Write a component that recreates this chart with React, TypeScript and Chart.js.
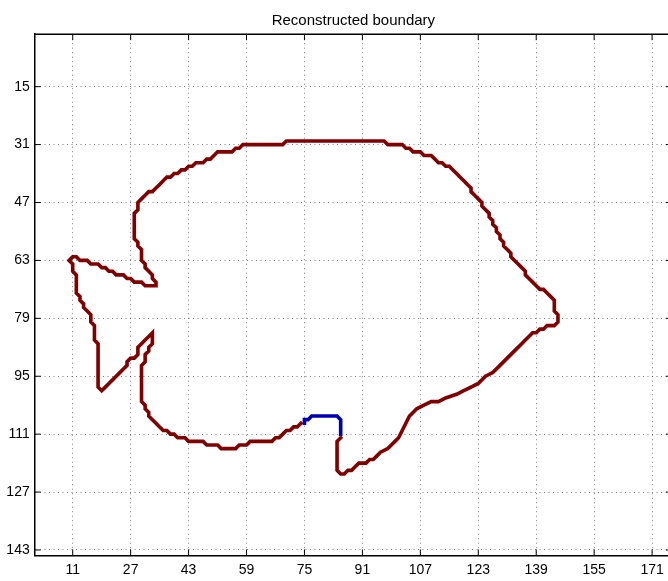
import { useEffect, useRef } from "react";
import { Chart, registerables } from "chart.js";

Chart.register(...registerables);

const titleText = "Reconstructed boundary";
const xTickValues = [11, 27, 43, 59, 75, 91, 107, 123, 139, 155, 171];
const yTickValues = [15, 31, 47, 63, 79, 95, 111, 127, 143];
const xLimits = [0.5, 176.5];
const yLimits = [0.5, 144.5];

// Outer contour, traced as pixel centres (run ends of the chain)
const contourX = [
  85, 84, 84, 85, 86, 87, 88, 89, 90, 92, 93, 94, 95, 96,
  98, 99, 100, 101, 102, 103, 104, 105, 106, 108, 110, 112, 114, 117, 119, 121, 123, 125, 127, 129, 131, 133, 135, 136,
  137, 138, 139, 140, 141, 142, 144, 145, 145, 144, 144, 143, 142, 141, 140, 139, 138, 137, 136, 136, 135, 134, 133,
  132, 132, 131, 130, 130, 129, 129, 128, 128, 127, 127, 126, 126, 125, 124, 124, 123, 122, 121, 121, 120, 119, 118,
  117, 116, 115, 114, 113, 112, 111, 110, 108, 107, 105, 104, 103, 102, 98, 97, 70, 69, 58, 57, 56, 55, 51, 50, 49,
  48, 47, 45, 44, 43, 42, 41, 40, 39, 38, 37, 36, 35, 34, 33, 32, 31, 30, 29, 29, 28, 28, 29, 29, 30, 30, 31, 31, 32,
  33, 33, 34, 34, 31, 30, 28, 27, 26, 25, 23, 22, 21, 20, 19, 18, 16, 15, 13, 12, 11, 10, 11, 11, 12, 12, 13, 13, 14,
  14, 15, 16, 16, 17, 17, 18, 18, 19, 20, 21, 22, 23, 24, 25, 26, 26, 27, 28, 29, 29, 30, 31, 32, 33, 33, 32, 32, 31,
  31, 30, 30, 31, 31, 32, 32, 33, 34, 35, 36, 37, 38, 39, 40, 42, 43, 47, 48, 51, 52, 56, 57, 59, 60, 66, 67, 68, 69,
  70, 71, 72, 73, 74,
];
const contourY = [
  112, 113, 121, 122, 122, 121, 121, 120, 119, 119, 118, 118, 117, 116,
  115, 114, 113, 112, 110, 108, 106, 105, 104, 103, 102, 102, 101, 100, 99, 98, 97, 95, 94, 92, 90, 88, 86, 85,
  84, 83, 83, 82, 82, 81, 81, 80, 78, 77, 74, 73, 72, 71, 71, 70, 69, 68, 67, 66, 65, 64, 63,
  62, 61, 60, 59, 58, 57, 56, 55, 54, 53, 52, 51, 50, 49, 48, 47, 46, 45, 44, 43, 42, 41, 40,
  39, 38, 37, 37, 36, 36, 35, 34, 34, 33, 33, 32, 32, 31, 31, 30, 30, 31, 31, 32, 32, 33, 33, 34, 35,
  35, 36, 36, 37, 37, 38, 38, 39, 39, 40, 40, 41, 42, 43, 44, 44, 45, 46, 47, 49, 50, 57, 58, 59, 60, 63, 64, 65, 66,
  67, 68, 69, 70, 70, 69, 69, 68, 68, 67, 67, 66, 66, 65, 65, 64, 64, 63, 63, 62, 62, 63, 64, 66, 67, 72, 73, 74, 75,
  76, 77, 78, 80, 81, 85, 86, 98, 99, 98, 97, 96, 95, 94, 93, 92, 91, 90, 90, 89, 87, 86, 85, 84, 83, 86, 87, 88, 89,
  91, 92, 102, 103, 104, 105, 106, 107, 108, 109, 110, 110, 111, 111, 112, 112, 113, 113, 114, 114, 115, 115, 114, 114, 113, 113, 112, 112, 111,
  110, 110, 109, 109, 108,
];

// Start of the contour, highlighted
const startX = [75, 75, 76, 77, 84, 85, 85];
const startY = [108, 107, 107, 106, 106, 107, 111];

const FONT = '"Liberation Sans", Arial, Helvetica, sans-serif';

const framePlugin = {
  id: "frame",
  beforeDatasetsDraw(chart: any) {
    const { ctx, chartArea } = chart;
    const { left, right, top, bottom } = chartArea;
    const xs = chart.scales.x;
    const ys = chart.scales.y;
    const len = 6;
    ctx.save();
    ctx.strokeStyle = "#000";
    ctx.lineWidth = 1;
    ctx.beginPath();
    for (const v of xTickValues) {
      const px = xs.getPixelForValue(v);
      ctx.moveTo(px, bottom);
      ctx.lineTo(px, bottom - len);
      ctx.moveTo(px, top);
      ctx.lineTo(px, top + len);
    }
    for (const v of yTickValues) {
      const py = ys.getPixelForValue(v);
      ctx.moveTo(left, py);
      ctx.lineTo(left + len, py);
      ctx.moveTo(right, py);
      ctx.lineTo(right - len, py);
    }
    ctx.stroke();
    ctx.lineWidth = 1.5;
    ctx.beginPath();
    ctx.moveTo(left, top);
    ctx.lineTo(right, top);
    ctx.lineTo(right, bottom);
    ctx.stroke();
    ctx.restore();
  },
  afterDraw(chart: any) {
    const { ctx, chartArea } = chart;
    ctx.save();
    ctx.fillStyle = "#000";
    ctx.font = `15px ${FONT}`;
    ctx.textAlign = "center";
    ctx.textBaseline = "middle";
    ctx.fillText(titleText, (chartArea.left + chartArea.right) / 2, 21);
    ctx.restore();
  },
};

export default function App() {
  const canvasRef = useRef<HTMLCanvasElement>(null);

  useEffect(() => {
    const canvas = canvasRef.current;
    if (!canvas) return;
    const toPoints = (xs: number[], ys: number[]) => xs.map((x, i) => ({ x, y: ys[i] }));
    const lineStyle = {
      showLine: true,
      pointRadius: 0,
      pointHoverRadius: 0,
      borderWidth: 3.62,
      borderCapStyle: "square" as const,
      borderJoinStyle: "miter" as const,
      tension: 0,
      fill: false,
    };
    const chart = new Chart(canvas, {
      type: "scatter",
      data: {
        datasets: [
          { ...lineStyle, data: toPoints(contourX, contourY), borderColor: "#800000", backgroundColor: "#800000" },
          { ...lineStyle, data: toPoints(startX, startY), borderColor: "#0000B0", backgroundColor: "#0000B0" },
        ],
      },
      options: {
        animation: false,
        responsive: false,
        maintainAspectRatio: false,
        devicePixelRatio: 1,
        layout: { padding: { top: 34.2, left: 0, right: 0, bottom: 0 } },
        plugins: {
          legend: { display: false },
          title: { display: false },
          tooltip: { enabled: false },
        },
        events: [],
        scales: {
          x: {
            type: "linear",
            position: "bottom",
            min: xLimits[0],
            max: xLimits[1],
            afterBuildTicks: (scale: any) => {
              scale.ticks = xTickValues.map((value) => ({ value }));
            },
            afterFit: (scale: any) => {
              scale.height = 25.6;
            },
            ticks: {
              autoSkip: false,
              maxRotation: 0,
              padding: 6,
              color: "#000",
              font: { family: FONT, size: 14 },
            },
            grid: { color: "rgba(0,0,0,0.5)", lineWidth: 1, drawTicks: false },
            border: { display: true, color: "#000", width: 1.5, dash: [1, 3.5] },
          },
          y: {
            type: "linear",
            position: "left",
            reverse: true,
            min: yLimits[0],
            max: yLimits[1],
            afterBuildTicks: (scale: any) => {
              scale.ticks = yTickValues.map((value) => ({ value }));
            },
            afterFit: (scale: any) => {
              scale.width = 34.7;
            },
            ticks: {
              autoSkip: false,
              padding: 5,
              color: "#000",
              font: { family: FONT, size: 14 },
            },
            grid: { color: "rgba(0,0,0,0.5)", lineWidth: 1, drawTicks: false },
            border: { display: true, color: "#000", width: 1.5, dash: [1, 3.5] },
          },
        },
      },
      plugins: [framePlugin],
    });
    return () => chart.destroy();
  }, []);

  return (
    <div
      style={{
        position: "fixed",
        left: 0,
        top: 0,
        width: 668,
        height: 581,
        overflow: "hidden",
        background: "#fff",
      }}
    >
      <canvas ref={canvasRef} width={672} height={581} style={{ display: "block", width: 672, height: 581 }} />
    </div>
  );
}
